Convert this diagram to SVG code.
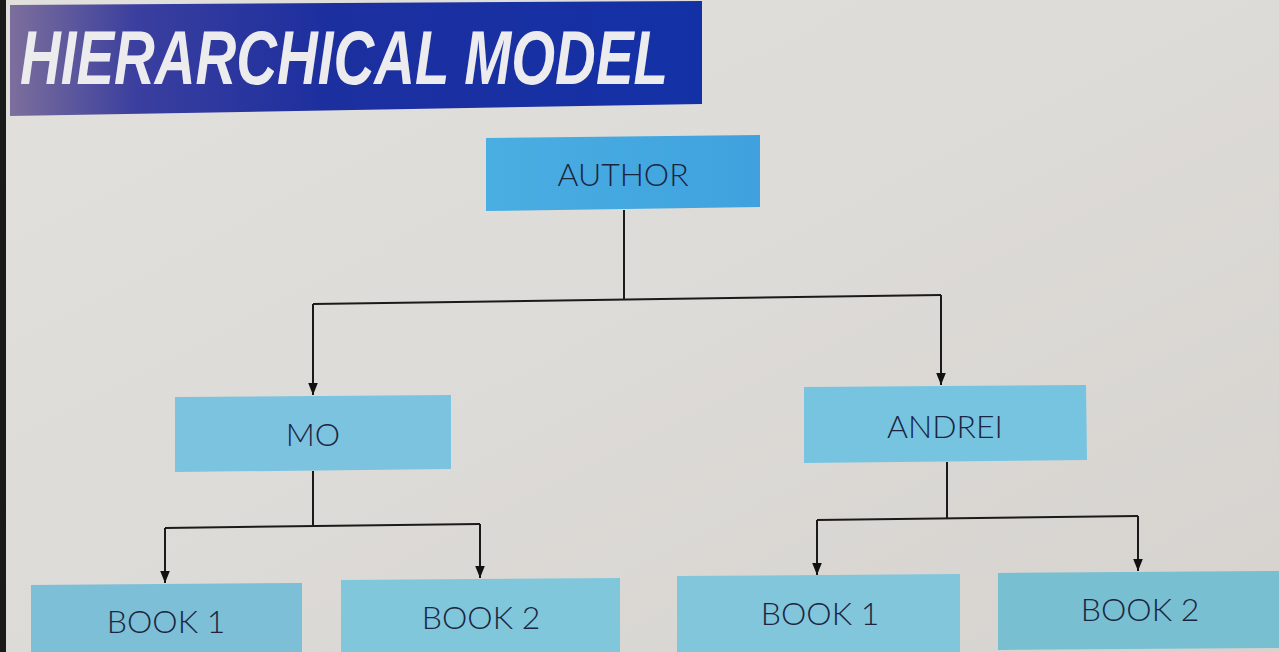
<svg xmlns="http://www.w3.org/2000/svg" width="1279" height="652" viewBox="0 0 1279 652">
  <defs>
    <linearGradient id="bg" x1="0" y1="0" x2="1" y2="1">
      <stop offset="0" stop-color="#e2e0dc"/>
      <stop offset="0.5" stop-color="#dddbd7"/>
      <stop offset="1" stop-color="#d6d3cf"/>
    </linearGradient>
    <linearGradient id="banner" x1="0" y1="0" x2="1" y2="0">
      <stop offset="0" stop-color="#7d6f9c"/>
      <stop offset="0.18" stop-color="#3b3f9e"/>
      <stop offset="0.45" stop-color="#1d2f9f"/>
      <stop offset="1" stop-color="#1331a6"/>
    </linearGradient>
    <linearGradient id="author" x1="0" y1="0" x2="1" y2="0">
      <stop offset="0" stop-color="#4aaee2"/>
      <stop offset="1" stop-color="#3fa2de"/>
    </linearGradient>
    <marker id="arr" viewBox="0 0 10 10" refX="10" refY="5" markerWidth="12" markerHeight="12" markerUnits="userSpaceOnUse" orient="auto">
      <path d="M0,1 L10,5 L0,9 Z" fill="#111"/>
    </marker>
    <style>
      .box text { font-family: Lato, "Open Sans", "Liberation Sans", sans-serif; font-weight: 300; font-size: 32px; fill: #1b2540; text-anchor: middle; dominant-baseline: central; }
      .conn { fill: none; stroke: #1a1a1a; stroke-width: 2; }
    </style>
  </defs>
  <rect x="0" y="0" width="1279" height="652" fill="url(#bg)"/>
  <rect x="0" y="0" width="6" height="652" fill="#1a1a1a"/>
  <g id="title">
    <polygon points="10,5 702,1 702,104 10,116" fill="url(#banner)"/>
    <text x="20" y="84" font-family="'Liberation Sans', Arial, sans-serif" font-size="76" font-weight="bold" font-style="italic" fill="#ecebee" textLength="648" lengthAdjust="spacingAndGlyphs">HIERARCHICAL MODEL</text>
  </g>
  <g id="connectors">
    <path class="conn" d="M624,210 L624,299"/>
    <path class="conn" d="M313,304 L941,295"/>
    <path class="conn" d="M313,304 L313,395" marker-end="url(#arr)"/>
    <path class="conn" d="M941,295 L941,385" marker-end="url(#arr)"/>
    <path class="conn" d="M313,471 L313,526"/>
    <path class="conn" d="M165,528 L480,524"/>
    <path class="conn" d="M165,528 L165,583" marker-end="url(#arr)"/>
    <path class="conn" d="M480,524 L480,578" marker-end="url(#arr)"/>
    <path class="conn" d="M947,462 L947,518"/>
    <path class="conn" d="M817,520 L1138,516"/>
    <path class="conn" d="M817,520 L817,575" marker-end="url(#arr)"/>
    <path class="conn" d="M1138,516 L1138,571" marker-end="url(#arr)"/>
  </g>
  <g id="author" class="box">
    <polygon points="486,138 760,135 760,207 486,211" fill="url(#author)"/>
    <text x="623" y="173">AUTHOR</text>
  </g>
  <g id="mo" class="box">
    <polygon points="175,397 451,395 451,469 175,472" fill="#7bc3df"/>
    <text x="313" y="433">MO</text>
  </g>
  <g id="andrei" class="box">
    <polygon points="804,387 1086,385 1087,460 804,463" fill="#77c4e1"/>
    <text x="945" y="425">ANDREI</text>
  </g>
  <g id="book1-mo" class="box">
    <polygon points="31,585 302,583 302,652 31,652" fill="#7cbfd6"/>
    <text x="166" y="620">BOOK 1</text>
  </g>
  <g id="book2-mo" class="box">
    <polygon points="341,580 620,578 620,652 341,652" fill="#80c7dc"/>
    <text x="481" y="616">BOOK 2</text>
  </g>
  <g id="book1-andrei" class="box">
    <polygon points="677,576 960,574 960,652 677,652" fill="#82c6dc"/>
    <text x="820" y="612">BOOK 1</text>
  </g>
  <g id="book2-andrei" class="box">
    <polygon points="998,573 1279,571 1279,648 998,650" fill="#78bfd2"/>
    <text x="1140" y="608">BOOK 2</text>
  </g>
</svg>
